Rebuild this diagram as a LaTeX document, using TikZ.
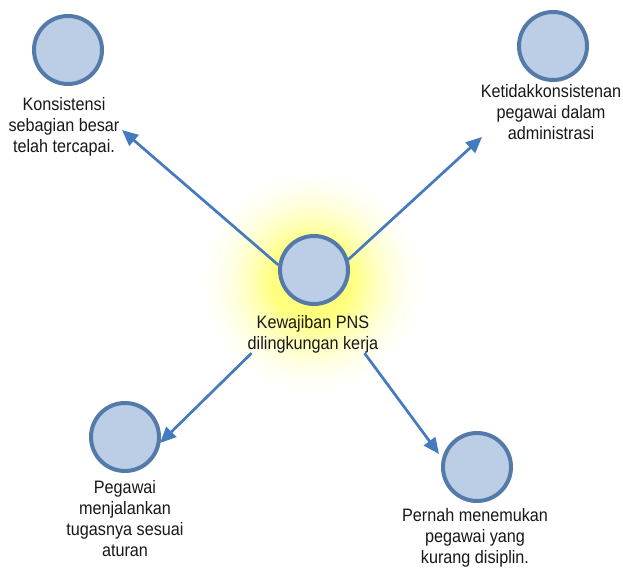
\documentclass[tikz,border=0pt]{standalone}
\usepackage{fontspec}
\setmainfont[FakeStretch=0.9]{Liberation Sans}
\usetikzlibrary{arrows.meta,calc}
\definecolor{ringblue}{RGB}{84,122,170}
\definecolor{discblue}{RGB}{188,206,230}
\definecolor{arrowblue}{RGB}{70,122,190}
\definecolor{inktext}{RGB}{24,24,24}
% the path's bounding box maps to the inner 25bp radius of the shading
\pgfdeclareradialshading{haloshade}{\pgfpoint{0bp}{0bp}}{%
  color(0bp)=(yellow!55);
  color(9bp)=(yellow!50);
  color(13bp)=(yellow!30);
  color(18bp)=(yellow!12);
  color(22bp)=(yellow!3);
  color(25bp)=(white);
  color(50bp)=(white)}
\tikzset{
  disc/.style={circle, draw=ringblue, line width=4pt, fill=discblue,
    minimum size=68pt, inner sep=0pt},
  caption/.style={anchor=north, align=center, inner sep=0pt,
    text=inktext, font=\fontsize{18pt}{21pt}\selectfont},
  link/.style={draw=arrowblue, line width=2.7pt,
    -{Triangle[length=16pt,width=14pt]}}
}
\begin{document}
\begin{tikzpicture}[x=1pt,y=-1pt]
  \useasboundingbox (0,0) rectangle (623,567);
  \fill[white] (0,0) rectangle (623,567);

  % soft yellow halo behind the central node
  \shade[shading=haloshade] (312,282) circle[radius=112];

  % circles
  \node[disc] (c)  at (314,270) {};
  \node[disc] (tl) at (68,50) {};
  \node[disc] (tr) at (553,46) {};
  \node[disc] (bl) at (125,437) {};
  \node[disc] (br) at (477,467) {};

  % captions
  \node[caption] (cL)  at (313,315) {Kewajiban PNS\\dilingkungan kerja};
  \node[caption] (tlL) at (64,97)   {Konsistensi\\sebagian besar\\telah tercapai.};
  \node[caption] (trL) at (551,84)  {Ketidakkonsistenan\\pegawai dalam\\administrasi};
  \node[caption] (blL) at (125,480) {Pegawai\\menjalankan\\tugasnya sesuai\\aturan};
  \node[caption] (brL) at (475,508) {Pernah menemukan\\pegawai yang\\kurang disiplin.};

  % arrow tips
  \coordinate (e1) at (122,130);
  \coordinate (e2) at (482,137);
  \coordinate (e3) at (160,443);
  \coordinate (e4) at (439,454);

  % connectors
  \draw[link] (c.172) -- (e1);
  \draw[link] (c.17) -- (e2);
  \draw[link] ($(cL.south west)+(4,0)$) -- (e3);
  \draw[link] ($(cL.south east)+(-14,0)$) -- (e4);
\end{tikzpicture}
\end{document}
